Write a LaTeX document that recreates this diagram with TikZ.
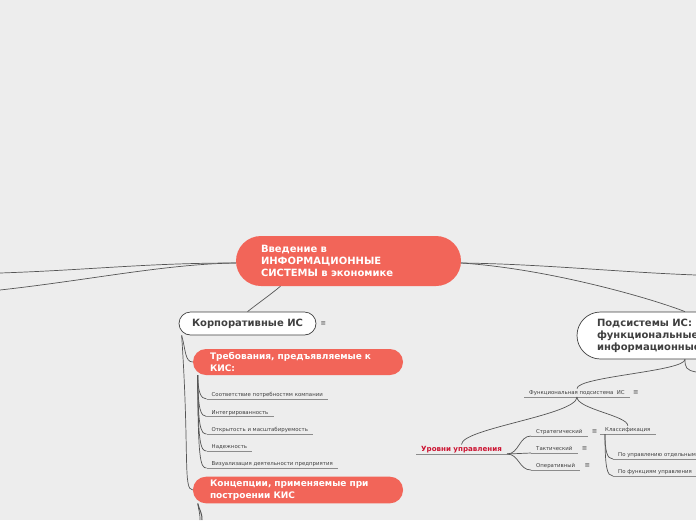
\documentclass[tikz,border=0pt]{standalone}
\usepackage{fontspec}
\setmainfont{DejaVu Sans}
\usetikzlibrary{positioning,calc}
\definecolor{bgfill}{RGB}{237,237,237}
\definecolor{topicfill}{RGB}{242,101,89}
\definecolor{inkgray}{RGB}{64,64,64}
\definecolor{linkgray}{RGB}{85,85,85}
\definecolor{ulgray}{RGB}{140,140,140}
\definecolor{levelred}{RGB}{204,20,50}
\tikzset{
  central/.style={fill=topicfill, text=white, rounded corners=25pt, align=left, font=\fontsize{10}{12}\selectfont\bfseries,
                  inner xsep=25pt, text width=175pt, minimum height=50pt},
  topic/.style  ={fill=topicfill, text=white, rounded corners=13pt, align=left, font=\fontsize{9}{11.5}\selectfont\bfseries,
                  inner xsep=17pt, text width=176pt, minimum height=26pt},
  mtopic/.style ={draw=inkgray, fill=white, text=inkgray, line width=0.7pt, font=\fontsize{10}{12}\selectfont\bfseries},
  leaf/.style   ={anchor=south west, text=inkgray, font=\fontsize{5.4}{6}\selectfont, inner xsep=5pt, inner ysep=2pt, text depth=0pt},
  uline/.style  ={draw=ulgray, line width=0.7pt},
  link/.style   ={draw=linkgray, line width=0.7pt},
  note/.style   ={text=inkgray, font=\fontsize{6.5}{6.5}\selectfont, inner sep=1pt}
}

\begin{document}
\begin{tikzpicture}[x=1pt, y=-1pt]
  \fill[bgfill] (0,0) rectangle (696,520);
  \useasboundingbox (0,0) rectangle (696,520);
  % topics
  \node[central] (root) at (348.5,261) {Введение в\\ИНФОРМАЦИОННЫЕ\\СИСТЕМЫ в экономике};
  \node[mtopic, rounded corners=11.5pt, minimum width=137pt, minimum height=23pt] (corp) at (247.5,323.5) {Корпоративные ИС};
  \node[note, right=3pt of corp] (corpnote) {≡};
  \node[topic] (req)  at (298,362) {Требования, предъявляемые к\\КИС:};
  \node[topic] (conc) at (298,490) {Концепции, применяемые при\\построении КИС};
  \node[mtopic, rounded corners=23.5pt, minimum height=47pt, align=left, inner xsep=20pt, text width=176pt] (sub) at (685,335.5)
       {Подсистемы ИС:\\функциональные\\информационные};
  % requirements
  \node[leaf] (r1) at (206.5,399) {Соответствие потребностям компании};
  \node[leaf] (r2) at (206.5,416.5) {Интегрированность};
  \node[leaf] (r3) at (206.5,434) {Открытость и масштабируемость};
  \node[leaf] (r4) at (206.5,451) {Надежность};
  \node[leaf] (r5) at (206.5,468) {Визуализация деятельности предприятия};
  % functional subsystem
  \node[leaf] (func) at (524,397) {Функциональная подсистема~~ИС};
  \node[note, right=2pt of func] (funcnote) {≡};
  \node[leaf, text=levelred, font=\fontsize{7.1}{8}\selectfont\bfseries] (lev) at (416,454) {Уровни управления};
  \node[leaf] (strat) at (531,436) {Стратегический};
  \node[note, right=3pt of strat] (stratnote) {≡};
  \node[leaf] (tact) at (531,453) {Тактический};
  \node[note, right=3pt of tact] (tactnote) {≡};
  \node[leaf] (oper) at (531,470) {Оперативный};
  \node[note, right=3pt of oper] (opernote) {≡};
  \node[leaf] (cls) at (600,434) {Классификация};
  \node[leaf] (c1) at (613,459) {По управлению отдельным};
  \node[leaf] (c2) at (613,476) {По функциям управления};
  \foreach \n in {r1,r2,r3,r4,r5,func,lev,strat,tact,oper,cls,c1,c2}
    \draw[uline] (\n.south west) -- (\n.south east);
  % free ends at the border
  \coordinate (eL1) at (0,273);
  \coordinate (eL2) at (0,290);
  \coordinate (eR1) at (696,275);
  \coordinate (eR2) at (696,372);
  \coordinate (eB1) at (202,520);
  \coordinate (eB2) at (200,520);
  \coordinate (rs) at ($(req.south west)+(5,0)$);
  \coordinate (cs) at ($(cls.south west)+(5,0)$);
  % connectors
  \draw[link] ($(root.west)+(0,2)$) .. controls +(-90,0) and +(90,-3) .. (eL1);
  \draw[link] ($(root.west)+(0,2)$) .. controls +(-70,1) and +(90,-10) .. (eL2);
  \draw[link] ($(root.east)+(0,2)$) .. controls +(80,1) and +(-80,-3) .. (eR1);
  \draw[link] ($(root.east)+(0,2)$) .. controls +(90,6) and +(-30,-12) .. (sub.north);
  \draw[link] ($(root.south)+(-68,0)$) .. controls +(-12,10) and +(10,-8) .. (corp.north);
  \draw[link] ($(corp.south west)+(3,0)$) .. controls +(4,14) and +(-8,0) .. (req.west);
  \draw[link] ($(corp.south west)+(3,0)$) .. controls +(8,120) and +(-10,0) .. (conc.west);
  \foreach \n in {r1,r2,r3,r4,r5}
    \draw[link] (rs) .. controls ($(rs |- \n.south west)+(0,-8)$) and ($(\n.south west)+(-6,0)$) .. (\n.south west);
  \draw[link, line width=1pt] ($(conc.south west)+(5,0)$) .. controls +(2,8) and +(0,-8) .. (eB1);
  \draw[link] ($(conc.south west)+(5,0)$) .. controls +(1,8) and +(0,-8) .. (eB2);
  \draw[link] (sub.south) .. controls +(0,12) and +(0,-12) .. (func.north);
  \draw[link] (sub.south) .. controls +(0,8) and +(-10,-2) .. (eR2);
  \draw[link] (func.south) .. controls +(0,18) and +(0,-16) .. (lev.north);
  \draw[link] (func.south) .. controls +(0,12) and +(0,-10) .. (cls.north);
  \foreach \n in {strat,tact,oper}
    \draw[link] (lev.south east) .. controls +(12,0) and +(-12,0) .. (\n.south west);
  \foreach \n in {c1,c2}
    \draw[link] (cs) .. controls ($(cs |- \n.south west)+(0,-8)$) and ($(\n.south west)+(-6,0)$) .. (\n.south west);
\end{tikzpicture}
\end{document}
